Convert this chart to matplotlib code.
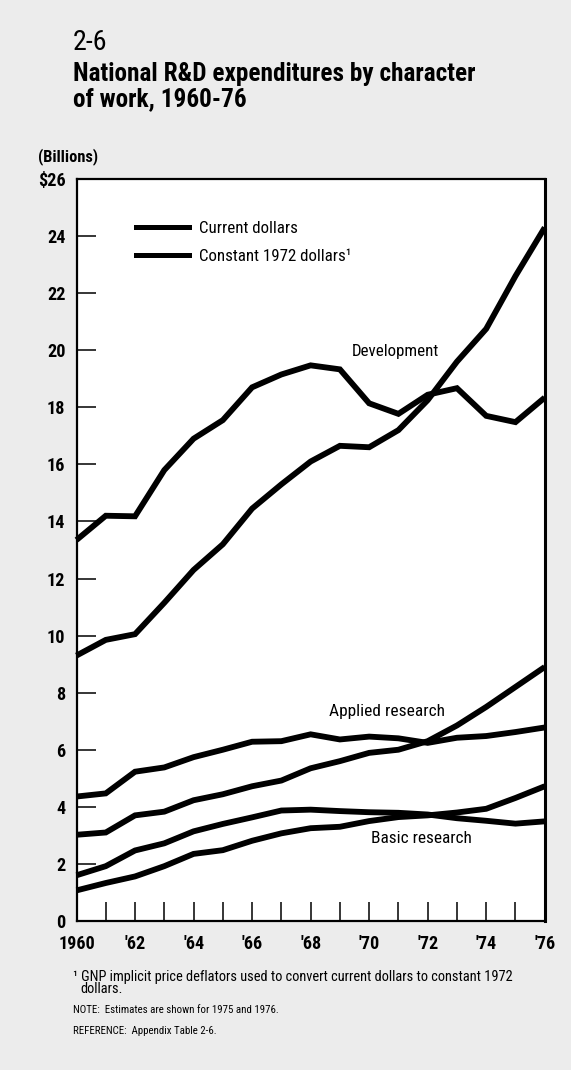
import matplotlib
matplotlib.use("Agg")
import matplotlib.pyplot as plt
from matplotlib import font_manager as fm
from matplotlib.lines import Line2D

# prefer a condensed face; fall back to Roboto (narrower than DejaVu)
_names = {f.name for f in fm.fontManager.ttflist}
FONT = "Roboto"
for cand in ["Liberation Sans Narrow", "Roboto Condensed", "Open Sans Condensed",
             "Noto Sans Condensed", "DejaVu Sans Condensed"]:
    if cand in _names:
        FONT = cand
        break
if FONT not in _names:
    FONT = "DejaVu Sans"
plt.rcParams["font.family"] = [FONT, "DejaVu Sans"]

# ── data (billions of dollars) ────────────────────────────────────────────────
YEARS = list(range(1960, 1977))
dev_current = [9.3, 9.85, 10.05, 11.15, 12.3, 13.2, 14.45, 15.3, 16.1, 16.65, 16.6,
               17.2, 18.25, 19.6, 20.75, 22.6, 24.3]
dev_constant = [13.35, 14.2, 14.18, 15.8, 16.9, 17.55, 18.7, 19.15, 19.47, 19.33, 18.14,
                17.77, 18.44, 18.67, 17.7, 17.48, 18.34]
app_current = [3.02, 3.1, 3.7, 3.83, 4.23, 4.44, 4.72, 4.92, 5.35, 5.6, 5.89,
               6.0, 6.3, 6.85, 7.5, 8.2, 8.9]
app_constant = [4.36, 4.47, 5.23, 5.38, 5.74, 6.0, 6.28, 6.3, 6.54, 6.36, 6.46,
                6.4, 6.24, 6.42, 6.48, 6.62, 6.78]
bas_current = [1.07, 1.33, 1.56, 1.92, 2.35, 2.48, 2.81, 3.07, 3.25, 3.3, 3.5,
               3.64, 3.7, 3.8, 3.93, 4.31, 4.72]
bas_constant = [1.6, 1.92, 2.47, 2.72, 3.14, 3.4, 3.63, 3.87, 3.9, 3.85, 3.81,
                3.79, 3.73, 3.6, 3.51, 3.41, 3.49]

YTICKS = list(range(0, 27, 2))
YTICKLABELS = [str(v) for v in YTICKS[:-1]] + ["$26"]
XLABEL_YEARS = list(range(1960, 1977, 2))
XTICKLABELS = ["1960"] + [f"'{y % 100}" for y in XLABEL_YEARS[1:]]

SERIES = [dev_current, dev_constant, app_current, app_constant, bas_current, bas_constant]
LINE_W = 4.2
BG = "#ececec"
H = 1070.0

fig = plt.figure(figsize=(5.71, 10.70), dpi=100, facecolor=BG)
ax = fig.add_axes([0.134, 0.1393, 0.820, 0.6934])
ax.set_facecolor("white")

for s in SERIES:
    ax.plot(YEARS, s, color="black", lw=LINE_W, solid_joinstyle="miter",
            solid_capstyle="butt", clip_on=False, zorder=3)

ax.set_xlim(1960, 1976)
ax.set_ylim(0, 26)
ax.set_yticks(YTICKS)
ax.set_yticklabels(YTICKLABELS)
ax.set_xticks(YEARS)
ax.set_xticklabels([XTICKLABELS[XLABEL_YEARS.index(y)] if y in XLABEL_YEARS else ""
                    for y in YEARS])
ax.tick_params(axis="both", direction="in", length=13.5, width=1.1, labelsize=12.5,
               color="black")
ax.tick_params(axis="y", pad=8)
ax.tick_params(axis="x", pad=10)
for lab in ax.get_xticklabels() + ax.get_yticklabels():
    lab.set_fontweight("bold")
for sp in ax.spines.values():
    sp.set_linewidth(1.6)
ax.spines["right"].set_linewidth(2.2)

# curve labels
t_dev = ax.text(1970.88, 19.95, "Development", ha="center", va="center", fontsize=13)
t_app = ax.text(1970.6, 7.35, "Applied research", ha="center", va="center", fontsize=13)
t_bas = ax.text(1971.8, 2.9, "Basic research", ha="center", va="center", fontsize=13)

# headings
t_num = fig.text(73 / 571, 1 - 42 / H, "2-6", fontsize=20, va="center", ha="left")
t_ti1 = fig.text(73 / 571, 1 - 74 / H, "National R&D expenditures by character",
                 fontsize=15.5, fontweight="bold", va="center", ha="left")
t_ti2 = fig.text(73 / 571, 1 - 99 / H, "of work, 1960-76",
                 fontsize=15.5, fontweight="bold", va="center", ha="left")
t_bil = fig.text(38 / 571, 1 - 157 / H, "(Billions)", fontsize=12, fontweight="bold",
                 va="center", ha="left")

# notes
t_fn1 = fig.text(73 / 571, 1 - 977 / H,
                 "\u00b9 GNP implicit price deflators used to convert current dollars to constant 1972",
                 fontsize=10, va="center", ha="left")
t_fn2 = fig.text(80 / 571, 1 - 989 / H, "dollars.", fontsize=10, va="center", ha="left")
t_note = fig.text(73 / 571, 1 - 1010 / H, "NOTE:  Estimates are shown for 1975 and 1976.",
                  fontsize=8.5, va="center", ha="left")
t_ref = fig.text(73 / 571, 1 - 1031 / H, "REFERENCE:  Appendix Table 2-6.",
                 fontsize=8.5, va="center", ha="left")

# size texts so their widths match the printed original (px)
fig.canvas.draw()
rend = fig.canvas.get_renderer()


def fit(t, width_px):
    for _ in range(2):
        w = t.get_window_extent(rend).width
        t.set_fontsize(t.get_fontsize() * width_px / w)


fit(t_dev, 87)
fit(t_app, 116)
fit(t_bas, 101)
fit(t_num, 35)
fit(t_ti1, 403)
t_ti2.set_fontsize(t_ti1.get_fontsize())
fit(t_bil, 60)
fit(t_fn1, 444)
t_fn2.set_fontsize(t_fn1.get_fontsize())
fit(t_note, 205)
t_ref.set_fontsize(t_note.get_fontsize())

# tick label size from the width of "1960"
xl = [l for l in ax.get_xticklabels() if l.get_text() == "1960"][0]
tick_fs = 12.5 * 37 / xl.get_window_extent(rend).width
ax.tick_params(labelsize=tick_fs)

# legend (both series drawn in black, as in the print)
leg_fs = t_dev.get_fontsize()
leg_px = leg_fs * 100 / 72
handles = [Line2D([], [], color="black", lw=3.6), Line2D([], [], color="black", lw=3.6)]
ax.legend(handles, ["Current dollars", "Constant 1972 dollars\u00b9"],
          loc="upper left", bbox_to_anchor=(0.128, 0.944), frameon=False,
          fontsize=leg_fs, handlelength=38 / leg_fs, handletextpad=7 / leg_fs,
          labelspacing=(30 - leg_px) / leg_px, borderaxespad=0, borderpad=0)

fig.savefig("out.png", dpi=100, facecolor=BG)
